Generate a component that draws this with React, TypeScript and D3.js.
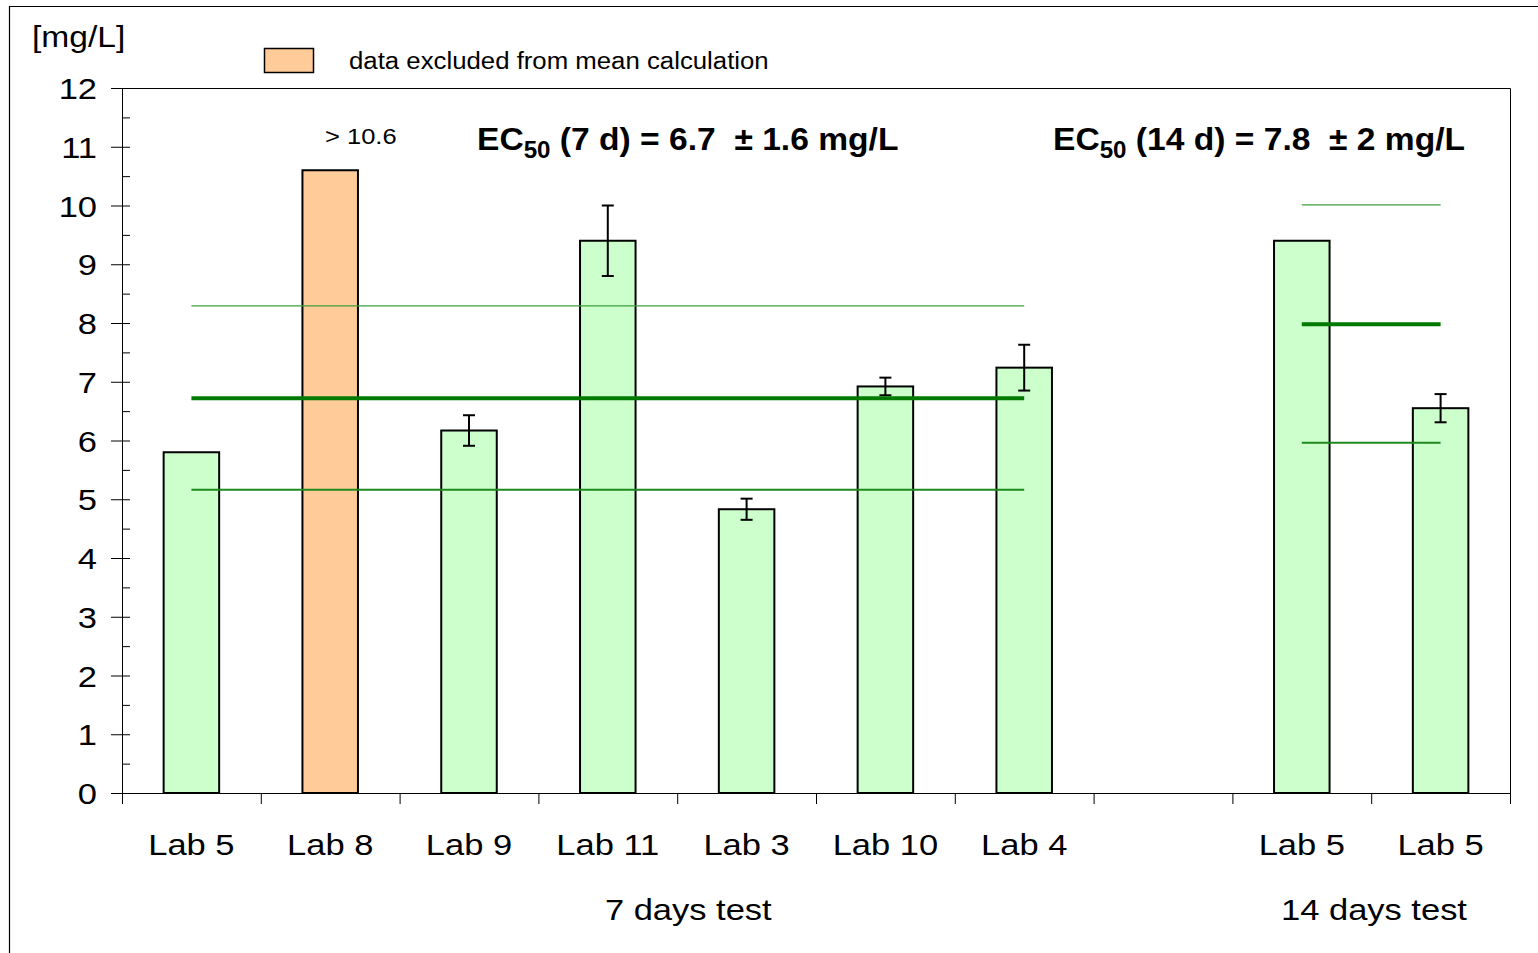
import { useEffect, useRef } from 'react';
import * as d3 from 'd3';

// slot labels (the empty slot is the gap between the two tests)
const labels = ['Lab 5', 'Lab 8', 'Lab 9', 'Lab 11', 'Lab 3', 'Lab 10', 'Lab 4', '', 'Lab 5', 'Lab 5'];
const values = [5.8, 10.6, 6.17, 9.4, 4.83, 6.92, 7.24, null, 9.4, 6.55];
const errors = [null, null, 0.26, 0.6, 0.18, 0.15, 0.39, null, null, 0.24];
const excluded = [false, true, false, false, false, false, false, false, false, false];

// mean +/- sd lines per test
const meanLines = [
  { from: 0, to: 6, mean: 6.72, upper: 8.29, lower: 5.16 },
  { from: 8, to: 9, mean: 7.98, upper: 10.01, lower: 5.96 },
];
const groupLabels = [
  { text: '7 days test', at: 4.08 },
  { text: '14 days test', at: 9.02 },
];
const yTicks = d3.range(0, 13);

export default function App() {
  const svgRef = useRef<SVGSVGElement>(null);

  useEffect(() => {
    const svg = d3.select(svgRef.current);
    svg.selectAll('*').remove();

    const left = 122, right = 1510, top = 88, bottom = 793;
    const font = '"Liberation Sans", Arial, sans-serif';

    // text in the original is stretched horizontally a bit
    const label = (xp: number, yp: number, txt: string, size: number, sx: number, anchor = 'start') =>
      svg.append('text')
        .attr('transform', `translate(${xp},${yp}) scale(${sx},1)`)
        .attr('text-anchor', anchor)
        .style('font-family', font)
        .style('font-size', `${size}px`)
        .text(txt);

    const x = d3.scaleBand<number>()
      .domain(labels.map((_, i) => i))
      .range([left, right])
      .padding(0);
    const y = d3.scaleLinear().domain([0, 12]).range([bottom, top]);
    const bw = x.bandwidth() * 0.4;
    const cx = (i: number) => (x(i) as number) + x.bandwidth() / 2;

    // outer frame (only top and left visible)
    svg.append('path')
      .attr('d', 'M9.5,953 L9.5,6.5 L1538,6.5')
      .attr('fill', 'none')
      .attr('stroke', '#000')
      .attr('stroke-width', 1.2);

    // plot box
    svg.append('path')
      .attr('d', `M${left},${top + 0.5} L${right + 0.5},${top + 0.5} L${right + 0.5},${bottom}`)
      .attr('fill', 'none')
      .attr('stroke', '#000')
      .attr('stroke-width', 1);

    // y axis
    const yAxis = svg.append('g');
    yAxis.append('line')
      .attr('x1', left + 0.5).attr('x2', left + 0.5)
      .attr('y1', top).attr('y2', bottom)
      .attr('stroke', '#000');
    yTicks.forEach(t => {
      yAxis.append('line')
        .attr('x1', 111).attr('x2', 130)
        .attr('y1', y(t) + 0.5).attr('y2', y(t) + 0.5)
        .attr('stroke', '#000');
      if (t < 12) {
        yAxis.append('line')
          .attr('x1', left).attr('x2', 130)
          .attr('y1', y(t + 0.5) + 0.5).attr('y2', y(t + 0.5) + 0.5)
          .attr('stroke', '#000');
      }
      label(97, y(t) + 11, String(t), 30, 1.15, 'end');
    });

    label(32, 47, '[mg/L]', 30, 1.12);

    // x axis
    svg.append('line')
      .attr('x1', 111).attr('x2', right)
      .attr('y1', bottom + 0.5).attr('y2', bottom + 0.5)
      .attr('stroke', '#000');
    d3.range(labels.length + 1).forEach(i => {
      const xp = i < labels.length ? (x(i) as number) : right;
      svg.append('line')
        .attr('x1', xp + 0.5).attr('x2', xp + 0.5)
        .attr('y1', bottom).attr('y2', bottom + 11)
        .attr('stroke', '#000');
    });
    labels.forEach((d, i) => label(cx(i), 855, d, 30, 1.15, 'middle'));

    groupLabels.forEach(g => label(left + g.at * x.bandwidth(), 920, g.text, 30, 1.15, 'middle'));

    // bars
    const idx = values.map((v, i) => i).filter(i => values[i] != null);
    svg.selectAll('.bar')
      .data(idx)
      .enter()
      .append('rect')
      .attr('x', i => cx(i) - bw / 2)
      .attr('y', i => y(values[i] as number))
      .attr('width', bw)
      .attr('height', i => bottom - y(values[i] as number))
      .attr('fill', i => excluded[i] ? '#FFCC99' : '#CCFFCC')
      .attr('stroke', '#000')
      .attr('stroke-width', 2);

    // error bars
    idx.filter(i => errors[i] != null).forEach(i => {
      const v = values[i] as number, e = errors[i] as number;
      const g = svg.append('g').attr('stroke', '#000').attr('stroke-width', 2);
      g.append('line').attr('x1', cx(i)).attr('x2', cx(i)).attr('y1', y(v + e)).attr('y2', y(v - e));
      g.append('line').attr('x1', cx(i) - 6).attr('x2', cx(i) + 6).attr('y1', y(v + e)).attr('y2', y(v + e));
      g.append('line').attr('x1', cx(i) - 6).attr('x2', cx(i) + 6).attr('y1', y(v - e)).attr('y2', y(v - e));
    });

    // mean and sd lines
    meanLines.forEach(m => {
      svg.append('line')
        .attr('x1', cx(m.from)).attr('x2', cx(m.to))
        .attr('y1', y(m.upper)).attr('y2', y(m.upper))
        .attr('stroke', '#3c9f3c').attr('stroke-width', 1.3);
      svg.append('line')
        .attr('x1', cx(m.from)).attr('x2', cx(m.to))
        .attr('y1', y(m.lower)).attr('y2', y(m.lower))
        .attr('stroke', '#1e8a1e').attr('stroke-width', 2);
      svg.append('line')
        .attr('x1', cx(m.from)).attr('x2', cx(m.to))
        .attr('y1', y(m.mean)).attr('y2', y(m.mean))
        .attr('stroke', '#007a00').attr('stroke-width', 4);
    });

    // excluded label
    label(325, 144, '> 10.6', 22, 1.16);

    // legend
    svg.append('rect')
      .attr('x', 264.5).attr('y', 48.5)
      .attr('width', 49).attr('height', 24)
      .attr('fill', '#FFCC99')
      .attr('stroke', '#000')
      .attr('stroke-width', 1.5);
    label(349, 69, 'data excluded from mean calculation', 23.5, 1.097);

    // EC50 annotations
    const ec = (xp: number, days: string, rest: string) => {
      const t = svg.append('text')
        .attr('transform', `translate(${xp},150) scale(1.05,1)`)
        .style('font-family', font)
        .style('font-size', '32px')
        .style('font-weight', 'bold');
      t.append('tspan').text('EC');
      t.append('tspan').attr('dy', 8).style('font-size', '23px').text('50');
      t.append('tspan').attr('dy', -8).text(`\u00a0(${days} d) = ${rest}`);
    };
    ec(477, '7', '6.7 \u00a0± 1.6 mg/L');
    ec(1053, '14', '7.8 \u00a0± 2 mg/L');
  }, []);

  return (
    <div style={{ position: 'absolute', left: 0, top: 0 }}>
      <svg ref={svgRef} width={1538} height={953} style={{ display: 'block', background: '#fff' }} />
    </div>
  );
}
